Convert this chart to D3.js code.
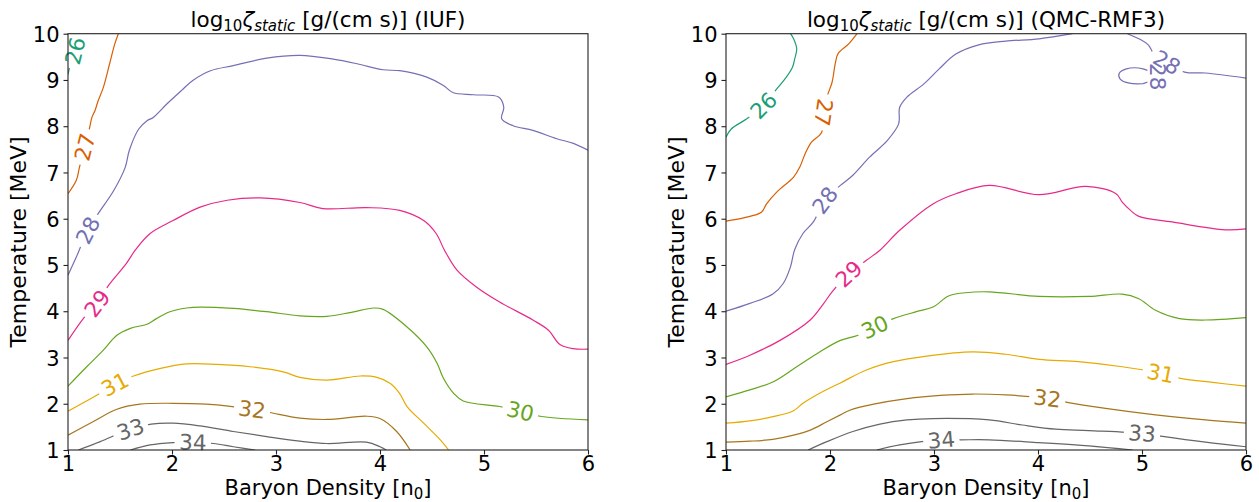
<!DOCTYPE html>
<html><head><meta charset="utf-8">
<script src="https://cdn.jsdelivr.net/npm/d3@7"></script>
<style>body{margin:0;background:#fff}svg{display:block}text{font-family:"DejaVu Sans",sans-serif}</style>
</head><body>
<div id="chart"></div>
<script>
// ---------------- DATA ----------------
const levels = [26, 27, 28, 29, 30, 31, 32, 33, 34];
const levelColors = ["#1b9e77", "#d95f02", "#7570b3", "#e7298a", "#66a61e", "#e6ab02", "#a6761d", "#666666", "#666666"];
const xTicks = [1, 2, 3, 4, 5, 6];
const yTicks = [1, 2, 3, 4, 5, 6, 7, 8, 9, 10];
const panelNames = ["IUF", "QMC-RMF3"];

// IUF contour lines [density n0, temperature MeV]
const iuf26 = [[1.0,9.12],[1.03,9.4],[1.067,9.63],[1.08,9.85],[1.09,10.0]];
const iuf27 = [[1.0,6.54],[1.08,6.83],[1.11,7.11],[1.16,7.55],[1.205,7.94],[1.23,8.19],[1.26,8.34],[1.29,8.55],[1.34,8.84],[1.40,9.35],[1.45,9.78],[1.484,10]];
const iuf28 = [[1.0,4.78],[1.08,5.17],[1.19,5.75],[1.29,6.11],[1.44,6.61],[1.55,7.11],[1.59,7.48],[1.68,7.94],[1.76,8.12],[1.82,8.19],[1.95,8.48],[2.09,8.77],[2.20,8.99],[2.37,9.20],[2.59,9.31],[2.91,9.47],[3.23,9.53],[3.55,9.45],[3.78,9.35],[4.03,9.22],[4.19,9.20],[4.45,9.06],[4.61,8.88],[4.70,8.73],[4.90,8.68],[5.14,8.63],[5.19,8.41],[5.17,8.16],[5.28,8.01],[5.47,7.91],[5.70,7.73],[5.86,7.63],[6.0,7.48]];
const iuf29 = [[1.0,3.37],[1.16,3.88],[1.28,4.17],[1.39,4.56],[1.56,5.03],[1.65,5.33],[1.79,5.68],[2.01,5.96],[2.27,6.25],[2.53,6.40],[2.85,6.45],[3.23,6.35],[3.45,6.22],[3.87,6.24],[4.19,6.18],[4.42,5.96],[4.54,5.68],[4.62,5.32],[4.74,4.89],[4.93,4.52],[5.15,4.20],[5.47,3.81],[5.62,3.59],[5.73,3.28],[5.86,3.19],[6.0,3.18]];
const iuf30 = [[1.0,2.38],[1.18,2.80],[1.34,3.16],[1.47,3.48],[1.60,3.63],[1.76,3.72],[1.85,3.84],[1.98,3.99],[2.14,4.07],[2.27,4.09],[2.59,4.06],[2.91,3.99],[3.23,3.90],[3.49,3.89],[3.71,3.97],[3.94,4.07],[4.03,4.04],[4.26,3.66],[4.45,3.23],[4.55,2.87],[4.61,2.55],[4.71,2.22],[4.80,2.06],[5.15,1.94],[5.35,1.84],[5.54,1.73],[6.0,1.65]];
const iuf31 = [[1.0,1.84],[1.28,2.19],[1.45,2.42],[1.63,2.60],[1.88,2.76],[2.14,2.86],[2.43,2.85],[2.75,2.80],[3.07,2.69],[3.23,2.57],[3.49,2.51],[3.81,2.60],[3.97,2.57],[4.10,2.44],[4.19,2.22],[4.26,1.94],[4.42,1.58],[4.58,1.22],[4.66,1.0]];
const iuf32 = [[1.0,1.32],[1.24,1.61],[1.47,1.88],[1.69,1.99],[2.01,2.01],[2.33,1.99],[2.77,1.88],[2.94,1.81],[3.23,1.69],[3.49,1.66],[3.87,1.73],[4.0,1.68],[4.16,1.40],[4.29,1.0]];
const iuf33 = [[1.10,1.0],[1.31,1.18],[1.60,1.45],[1.80,1.56],[2.01,1.58],[2.27,1.52],[2.59,1.40],[2.91,1.29],[3.23,1.19],[3.49,1.14],[3.87,1.17],[4.0,1.07],[4.06,1.0]];
const iuf34 = [[1.60,1.0],[1.79,1.11],[2.01,1.16],[2.20,1.17],[2.40,1.14],[2.59,1.07],[2.80,1.0]];

// QMC-RMF3 contour lines
const qmc26 = [[1.0,7.76],[1.05,7.94],[1.20,8.16],[1.36,8.45],[1.49,8.81],[1.58,9.06],[1.64,9.28],[1.66,9.45],[1.68,9.67],[1.65,9.89],[1.62,10]];
const qmc27 = [[2.26,10],[2.18,9.78],[2.08,9.58],[2.05,9.35],[2.02,8.95],[1.97,8.63],[1.94,8.30],[1.92,7.87],[1.82,7.65],[1.76,7.40],[1.71,7.12],[1.65,6.90],[1.49,6.58],[1.39,6.32],[1.34,6.14],[1.17,6.02],[1.0,5.95]];
const qmc28a = [[1.0,4.0],[1.23,4.17],[1.45,4.37],[1.55,4.60],[1.62,4.96],[1.66,5.33],[1.74,5.68],[1.84,5.93],[1.95,6.40],[2.10,6.72],[2.22,6.94],[2.38,7.33],[2.55,7.69],[2.66,8.05],[2.67,8.41],[2.74,8.63],[2.90,8.91],[3.05,9.24],[3.21,9.56],[3.43,9.76],[3.69,9.84],[4.01,9.89],[4.33,10]];
const qmc28b = [[4.86,10],[4.98,9.88],[5.06,9.76],[5.12,9.55],[5.24,9.38],[5.41,9.17],[5.61,9.15],[6.0,9.04]];
const qmc28c = [[5.01,8.92],[4.88,8.93],[4.79,9.02],[4.78,9.14],[4.85,9.24],[5.01,9.24],[5.15,9.07],[5.01,8.92]];
const qmc29 = [[1.0,2.85],[1.23,3.05],[1.52,3.37],[1.81,3.81],[1.94,4.17],[2.02,4.42],[2.18,4.81],[2.35,5.10],[2.48,5.32],[2.67,5.75],[2.99,6.32],[3.21,6.54],[3.53,6.72],[4.01,6.52],[4.46,6.70],[4.75,6.54],[4.81,6.36],[4.89,6.18],[4.97,6.05],[5.29,5.93],[5.80,5.76],[6.0,5.78]];
const qmc30 = [[1.0,2.15],[1.23,2.30],[1.45,2.47],[1.68,2.80],[1.90,3.12],[2.10,3.37],[2.27,3.48],[2.43,3.66],[2.61,3.84],[2.83,3.99],[2.99,4.09],[3.14,4.33],[3.30,4.40],[3.53,4.42],[4.01,4.32],[4.49,4.32],[4.81,4.37],[4.97,4.27],[5.13,4.02],[5.36,3.84],[5.61,3.81],[6.0,3.86]];
const qmc31 = [[1.0,1.58],[1.23,1.63],[1.45,1.72],[1.65,1.85],[1.74,2.01],[1.87,2.19],[2.10,2.45],[2.35,2.73],[2.61,2.91],[2.93,3.03],[3.37,3.12],[3.69,3.07],[4.01,2.96],[4.39,2.91],[4.81,2.80],[5.18,2.66],[5.37,2.55],[5.68,2.46],[6.0,2.38]];
const qmc32 = [[1.0,1.17],[1.23,1.19],[1.45,1.23],[1.65,1.32],[1.81,1.43],[1.97,1.61],[2.10,1.76],[2.19,1.86],[2.42,1.99],[2.74,2.11],[3.06,2.18],[3.37,2.21],[3.69,2.19],[4.09,2.12],[4.28,2.03],[4.65,1.90],[5.13,1.76],[5.61,1.65],[6.0,1.58]];
const qmc33 = [[1.79,1.0],[1.97,1.18],[2.22,1.40],[2.48,1.56],[2.74,1.65],[2.99,1.68],[3.53,1.65],[3.85,1.54],[4.17,1.45],[4.49,1.42],[5.0,1.36],[5.18,1.30],[5.61,1.17],[6.0,1.07]];
const qmc34 = [[2.45,1.0],[2.67,1.11],[3.07,1.22],[3.26,1.22],[3.53,1.22],[4.01,1.16],[4.49,1.09],[4.91,1.0]];

// label anchor points: [level, density, temperature]
const iufLabels = [[26,1.067,9.63],[27,1.16,7.55],[28,1.19,5.75],[29,1.28,4.17],[30,5.35,1.84],[31,1.45,2.42],[32,2.77,1.88],[33,1.60,1.45],[34,2.20,1.17]];
const qmcLabels = [[26,1.36,8.45],[27,1.94,8.30],[28,1.95,6.40],[28,5.24,9.38],[28,5.15,9.07],[29,2.18,4.81],[30,2.43,3.66],[31,5.18,2.66],[32,4.09,2.12],[33,5.0,1.36],[34,3.07,1.22]];

const iufLines = [[26,iuf26],[27,iuf27],[28,iuf28],[29,iuf29],[30,iuf30],[31,iuf31],[32,iuf32],[33,iuf33],[34,iuf34]];
const qmcLines = [[26,qmc26],[27,qmc27],[28,qmc28a],[28,qmc28b],[28,qmc28c],[29,qmc29],[30,qmc30],[31,qmc31],[32,qmc32],[33,qmc33],[34,qmc34]];

// ---------------- DRAW ----------------
const W = 1259, H = 502;
const svg = d3.select("#chart").append("svg").attr("width", W).attr("height", H);
const defs = svg.append("defs");
const color = d3.scaleOrdinal().domain(levels).range(levelColors);
const panels = [
  {x0: 68, x1: 588, name: panelNames[0], lines: iufLines, labels: iufLabels},
  {x0: 726, x1: 1246, name: panelNames[1], lines: qmcLines, labels: qmcLabels}
];
const yTop = 33.7, yBot = 450;
const labelFont = 21.5;
const axisFont = 21;

panels.forEach((P, pi) => {
  const x = d3.scaleLinear().domain([1, 6]).range([P.x0, P.x1]);
  const y = d3.scaleLinear().domain([1, 10]).range([yBot, yTop]);
  const clipId = "clip" + pi;
  defs.append("clipPath").attr("id", clipId).append("rect")
    .attr("x", P.x0).attr("y", yTop).attr("width", P.x1 - P.x0).attr("height", yBot - yTop);

  const gLines = svg.append("g").attr("clip-path", `url(#${clipId})`);
  const gLabels = svg.append("g");
  const line = d3.line().x(d => x(d[0])).y(d => y(d[1])).curve(d3.curveCatmullRom.alpha(0.5));

  P.lines.forEach((L, li) => {
    const [lev, pts] = L;
    const scr = pts.map(p => [x(p[0]), y(p[1])]);
    const myLabels = P.labels.filter(lb => lb[0] === lev &&
      pts.some(p => Math.abs(p[0] - lb[1]) < 1e-6 && Math.abs(p[1] - lb[2]) < 1e-6));
    const maskId = `m${pi}_${li}`;
    const mask = defs.append("mask").attr("id", maskId).attr("maskUnits", "userSpaceOnUse")
      .attr("x", 0).attr("y", 0).attr("width", W).attr("height", H);
    mask.append("rect").attr("x", 0).attr("y", 0).attr("width", W).attr("height", H).attr("fill", "white");

    myLabels.forEach(lb => {
      const idx = pts.findIndex(p => Math.abs(p[0] - lb[1]) < 1e-6 && Math.abs(p[1] - lb[2]) < 1e-6);
      const a = scr[Math.max(0, idx - 1)], b = scr[Math.min(scr.length - 1, idx + 1)];
      const ang = Math.atan2(b[1] - a[1], b[0] - a[0]) * 180 / Math.PI;
      const cx = x(lb[1]), cy = y(lb[2]);
      const t = gLabels.append("text")
        .attr("transform", `translate(${cx},${cy}) rotate(${ang})`)
        .attr("text-anchor", "middle").attr("dy", "0.36em")
        .attr("font-size", labelFont).attr("fill", color(lev)).text(lb[0]);
      const tw = t.node().getComputedTextLength();
      const gw = tw + 9, gh = labelFont * 0.95;
      mask.append("rect").attr("x", -gw / 2).attr("y", -gh / 2).attr("width", gw).attr("height", gh)
        .attr("transform", `translate(${cx},${cy}) rotate(${ang})`).attr("fill", "black");
    });

    gLines.append("path").attr("d", line(pts)).attr("fill", "none")
      .attr("stroke", color(lev)).attr("stroke-width", 1.2)
      .attr("mask", `url(#${maskId})`);
  });

  // axes
  const xAxis = d3.axisBottom(x).tickValues(xTicks).tickSize(4.5).tickPadding(1).tickFormat(d3.format("d"));
  const yAxis = d3.axisLeft(y).tickValues(yTicks).tickSize(4.5).tickPadding(4).tickFormat(d3.format("d"));
  const gx = svg.append("g").attr("transform", `translate(0,${yBot})`).call(xAxis);
  const gy = svg.append("g").attr("transform", `translate(${P.x0},0)`).call(yAxis);
  [gx, gy].forEach(g => {
    g.select(".domain").remove();
    g.selectAll("line").attr("stroke", "#222").attr("stroke-width", 1.1);
    g.selectAll("text").attr("font-size", 21).attr("fill", "#000")
      .style("font-family", '"DejaVu Sans", sans-serif');
  });
  gx.selectAll("text").attr("dy", "0.74em");
  gy.selectAll("text").attr("dy", "0.36em");

  svg.append("rect").attr("x", P.x0).attr("y", yTop).attr("width", P.x1 - P.x0).attr("height", yBot - yTop)
    .attr("fill", "none").attr("stroke", "#222").attr("stroke-width", 1.1);

  // axis labels
  const xl = svg.append("text").attr("x", (P.x0 + P.x1) / 2).attr("y", 495)
    .attr("text-anchor", "middle").attr("font-size", axisFont).attr("fill", "#000");
  xl.append("tspan").text("Baryon Density [n");
  xl.append("tspan").attr("font-size", 15).attr("dy", 3.5).text("0");
  xl.append("tspan").attr("dy", -3.5).text("]");

  svg.append("text").attr("transform", `translate(${P.x0 - 42},${(yTop + yBot) / 2}) rotate(-90)`)
    .attr("text-anchor", "middle").attr("font-size", 22).attr("fill", "#000").text("Temperature [MeV]");

  // title
  const tt = svg.append("text").attr("x", (P.x0 + P.x1) / 2).attr("y", 27)
    .attr("text-anchor", "middle").attr("font-size", 21.5).attr("fill", "#000");
  tt.append("tspan").text("log");
  tt.append("tspan").attr("font-size", 15).attr("dy", 4).text("10");
  tt.append("tspan").attr("dy", -4).attr("font-style", "italic").text("ζ");
  tt.append("tspan").attr("font-size", 15).attr("dy", 4).attr("font-style", "italic").text("static");
  tt.append("tspan").attr("dy", -4).text(` [g/(cm s)] (${P.name})`);
});
</script>
</body></html>
